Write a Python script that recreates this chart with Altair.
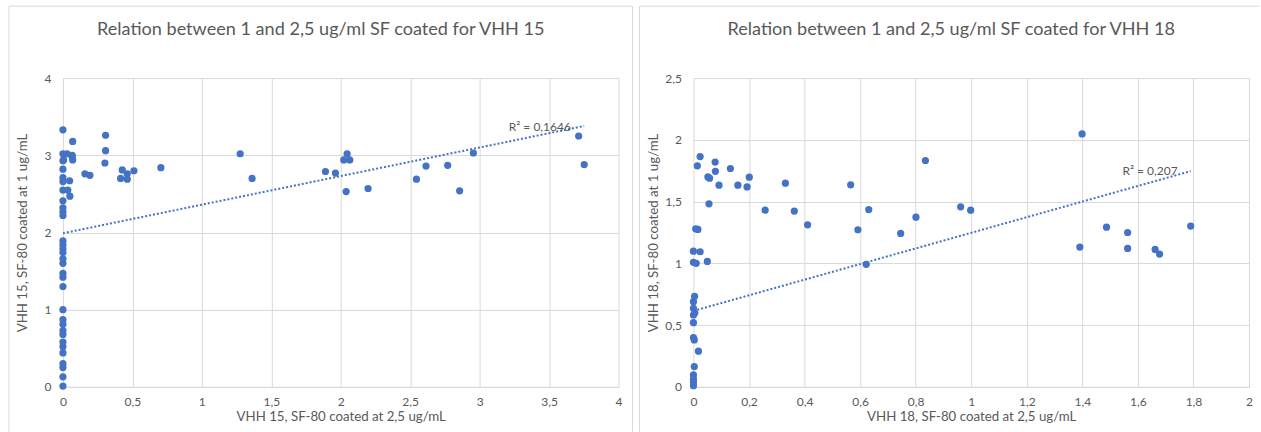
import altair as alt
import pandas as pd

# ---------------- data ----------------
# VHH 15: x = SF-80 coated at 2,5 ug/mL, y = SF-80 coated at 1 ug/mL
x15 = [0, 0, 0.005, 0, 0, 0, 0, 0, 0, 0, 0, 0,
       0.03, 0.067, 0.067, 0.07, 0.07, 0.048, 0.035, 0.05,
       0, 0, 0, 0, 0, 0, 0, 0, 0, 0, 0, 0, 0, 0, 0, 0, 0, 0, 0, 0, 0,
       0.158, 0.194, 0.302, 0.307, 0.307, 0.427, 0.415, 0.463, 0.463, 0.511,
       0.705, 1.276, 1.362, 1.890, 1.962, 2.046, 2.022, 2.065, 2.039, 2.197,
       2.545, 2.614, 2.770, 2.856, 2.955, 3.713, 3.753]
y15 = [3.33, 3.02, 2.94, 2.93, 2.82, 2.71, 2.66, 2.55, 2.41, 2.32, 2.27, 2.22,
       3.02, 3.00, 2.97, 2.94, 3.18, 2.67, 2.55, 2.47,
       1.89, 1.84, 1.79, 1.74, 1.66, 1.60, 1.47, 1.42, 1.30, 1.00, 0.87, 0.81,
       0.73, 0.68, 0.58, 0.52, 0.44, 0.30, 0.25, 0.13, 0.01,
       2.76, 2.74, 2.90, 3.06, 3.26, 2.81, 2.70, 2.76, 2.69, 2.80,
       2.84, 3.02, 2.70, 2.79, 2.77, 3.02, 2.94, 2.94, 2.53, 2.57,
       2.69, 2.86, 2.87, 2.54, 3.03, 3.25, 2.88]

# VHH 18
x18 = [0.024, 0.014, 0.078, 0.079, 0.052, 0.058, 0.092, 0.133, 0.160, 0.193,
       0.201, 0.056, 0.258, 0.331, 0.363, 0.411, 0.566, 0.592, 0.631, 0.622,
       0.746, 0.801, 0.835, 0.008, 0.016, 0.0, 0.024, 0.0, 0.01, 0.05,
       0.004, 0.0, 0.0, 0.005, 0.0, 0.0, 0.0, 0.003, 0.018, 0.003,
       0.0, 0.0, 0.0, 0.0, 0.962, 0.998, 1.399, 1.391, 1.487, 1.563,
       1.563, 1.662, 1.678, 1.790]
y18 = [1.865, 1.79, 1.82, 1.745, 1.70, 1.69, 1.633, 1.768, 1.633, 1.619,
       1.698, 1.482, 1.431, 1.649, 1.423, 1.312, 1.636, 1.272, 1.436, 0.992,
       1.242, 1.374, 1.833, 1.28, 1.275, 1.099, 1.094, 1.008, 1.0, 1.016,
       0.733, 0.69, 0.636, 0.60, 0.582, 0.52, 0.399, 0.38, 0.289, 0.164,
       0.097, 0.062, 0.035, 0.01, 1.458, 1.431, 2.048, 1.132, 1.293, 1.25,
       1.121, 1.113, 1.075, 1.302]

# linear trendline end points as drawn in the reference
trend15_x = [0, 3.753]
trend15_y = [1.99, 3.38]
trend18_x = [0, 1.79]
trend18_y = [0.615, 1.747]

x15_ticks = [0, 0.5, 1, 1.5, 2, 2.5, 3, 3.5, 4]
y15_ticks = [0, 0.5, 1, 1.5, 2, 2.5, 3, 3.5, 4]
x18_ticks = [0, 0.2, 0.4, 0.6, 0.8, 1, 1.2, 1.4, 1.6, 1.8, 2]
y18_ticks = [0, 0.5, 1, 1.5, 2, 2.5]

titles = ["Relation between 1 and 2,5 ug/ml SF coated for VHH 15",
          "Relation between 1 and 2,5 ug/ml SF coated for VHH 18"]
x_titles = ["VHH 15, SF-80 coated at 2,5 ug/mL", "VHH 18, SF-80 coated at 2,5 ug/mL"]
y_titles = ["VHH 15, SF-80 coated at 1 ug/mL", "VHH 18, SF-80 coated at 1 ug/mL"]
r2_texts = ["R² = 0,1646", "R² = 0,207"]

# ---------------- style ----------------
BLUE = "#4472C4"
TXT = "#595959"
GRID = "#d9d9d9"
FRAME = "#d9d9d9"
FONT = "Lato"
W, H = 556, 309
LABEL_EXPR = "replace(toString(datum.value), '.', ',')"


def panel(xs, ys, tx, ty, xt, yt, xmax, ymax, xtitle, ytitle, title, r2, r2x, r2y, right_frame):
    df = pd.DataFrame({"x": xs, "y": ys})
    one = alt.Chart(pd.DataFrame({"a": [0]}))

    x_axis = alt.Axis(values=xt, title=xtitle, labelExpr=LABEL_EXPR, grid=True,
                      gridColor=GRID, domainColor=GRID, ticks=False, labelFlush=False,
                      labelPadding=10, labelFontSize=12, labelColor=TXT,
                      titleFontSize=13.3, titleColor=TXT, titleFontWeight="normal",
                      titleX=W / 2, titleY=34, titleBaseline="alphabetic")
    y_axis = alt.Axis(values=yt, title=ytitle, labelExpr=LABEL_EXPR, grid=True,
                      gridColor=GRID, domain=False, ticks=False, labelFlush=False,
                      labelPadding=12, labelFontSize=12, labelColor=TXT,
                      titleFontSize=13.3, titleColor=TXT, titleFontWeight="normal",
                      titleX=-40, titleY=H / 2, titleBaseline="middle")
    xenc = alt.X("x:Q", scale=alt.Scale(domain=[0, xmax], nice=False), axis=x_axis)
    yenc = alt.Y("y:Q", scale=alt.Scale(domain=[0, ymax], nice=False), axis=y_axis)

    points = alt.Chart(df).mark_circle(size=52, color=BLUE, opacity=1).encode(x=xenc, y=yenc)
    trend = (alt.Chart(pd.DataFrame({"x": tx, "y": ty}))
             .mark_line(color=BLUE, strokeDash=[2, 2], strokeWidth=2)
             .encode(x="x:Q", y="y:Q"))
    lab = (alt.Chart(pd.DataFrame({"x": [r2x], "y": [r2y], "t": [r2]}))
           .mark_text(align="right", baseline="middle", color=TXT, fontSize=12, font=FONT)
           .encode(x="x:Q", y="y:Q", text="t:N"))
    ttl = one.mark_text(text=title, fontSize=18.1, font=FONT, color=TXT,
                        align="center", baseline="middle").encode(
        x=alt.value(W / 2 - 20), y=alt.value(-48))

    layers = [
        one.mark_rule(color=FRAME).encode(x=alt.value(-54), y=alt.value(-72), y2=alt.value(354)),
        one.mark_rule(color=FRAME).encode(y=alt.value(-72), x=alt.value(-54),
                                          x2=alt.value(570 if right_frame else 567)),
    ]
    if right_frame:
        layers.append(one.mark_rule(color=FRAME).encode(x=alt.value(570), y=alt.value(-72),
                                                        y2=alt.value(354)))
    layers += [ttl, points, trend, lab]
    return alt.layer(*layers).properties(width=W, height=H)


left = panel(x15, y15, trend15_x, trend15_y, x15_ticks, y15_ticks, 4, 4,
             x_titles[0], y_titles[0], titles[0], r2_texts[0], 3.657, 3.37, True)
right = panel(x18, y18, trend18_x, trend18_y, x18_ticks, y18_ticks, 2, 2.5,
              x_titles[1], y_titles[1], titles[1], r2_texts[1], 1.743, 1.75, False)

chart = (alt.hconcat(left, right, spacing=75, bounds="flush")
         .properties(padding={"left": 8, "top": 5, "right": 0, "bottom": 0})
         .configure(font=FONT)
         .configure_view(strokeWidth=0))

chart.save("out.html", embed_options={"renderer": "svg", "actions": False})
